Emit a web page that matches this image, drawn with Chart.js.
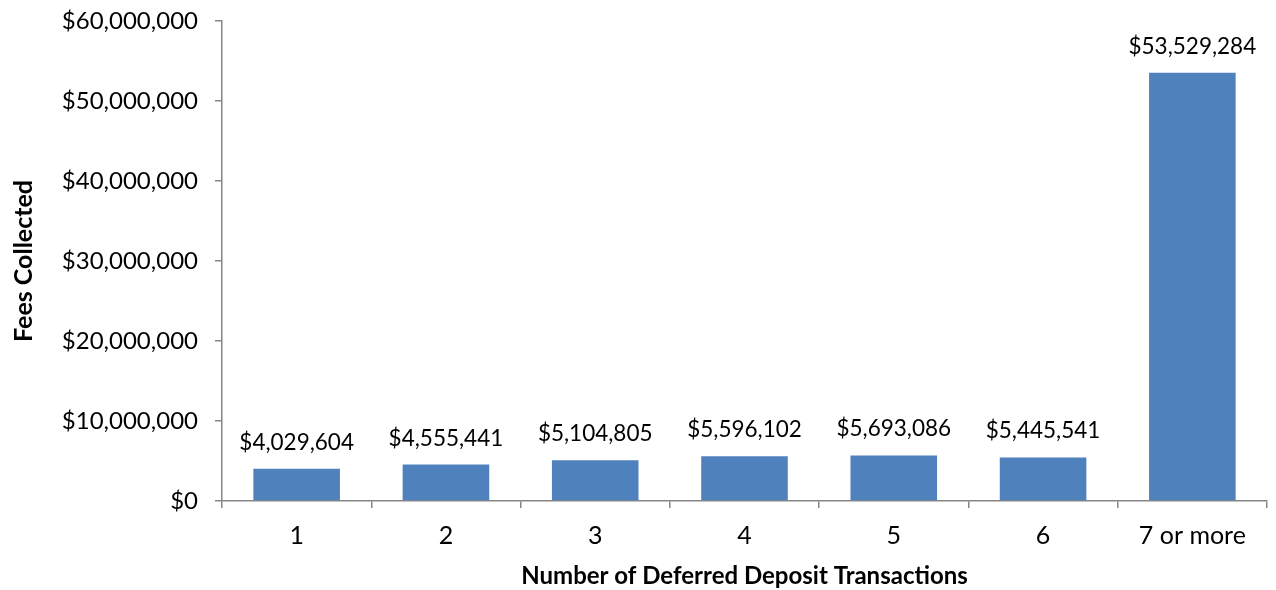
<!DOCTYPE html>
<html>
<head>
<meta charset="utf-8">
<script src="https://cdn.jsdelivr.net/npm/chart.js@4.4.0/dist/chart.umd.min.js"></script>
<style>
  html, body { margin: 0; padding: 0; background: #ffffff; }
  #wrap { width: 1276px; height: 590px; position: relative; }
</style>
</head>
<body>
<div id="wrap"><canvas id="c" width="1276" height="590"></canvas></div>
<script>
const categories = ["1", "2", "3", "4", "5", "6", "7 or more"];
const feesCollected = [4029604, 4555441, 5104805, 5596102, 5693086, 5445541, 53529284];
const yTickValues = [0, 10000000, 20000000, 30000000, 40000000, 50000000, 60000000];

const FONT = "Lato, 'Open Sans', sans-serif";
const fmt = v => "$" + Math.round(v).toLocaleString("en-US");

const valueLabels = {
  id: "valueLabels",
  afterDatasetsDraw(chart) {
    const ctx = chart.ctx;
    const meta = chart.getDatasetMeta(0);
    ctx.save();
    ctx.font = "22.5px " + FONT;
    ctx.fillStyle = "#000000";
    ctx.textAlign = "center";
    ctx.textBaseline = "bottom";
    meta.data.forEach((bar, i) => {
      ctx.fillText(fmt(feesCollected[i]), bar.x, bar.y - 15);
    });
    ctx.restore();
  }
};

new Chart(document.getElementById("c"), {
  type: "bar",
  data: {
    labels: categories,
    datasets: [{
      data: feesCollected,
      backgroundColor: "#4F81BD",
      borderWidth: 0,
      barPercentage: 0.58,
      categoryPercentage: 1.0
    }]
  },
  options: {
    responsive: false,
    animation: false,
    layout: { padding: { left: 0, right: 9, top: 21, bottom: 0 } },
    plugins: { legend: { display: false }, tooltip: { enabled: false } },
    scales: {
      x: {
        grid: { display: true, drawOnChartArea: false, drawTicks: true, tickLength: 7, color: "#868686", lineWidth: 1.5, offset: true },
        border: { display: true, color: "#868686", width: 1.5 },
        ticks: { color: "#000000", font: { family: FONT, size: 25 }, padding: 13 },
        title: { display: true, text: "Number of Deferred Deposit Transactions", color: "#000000", font: { family: FONT, size: 24, weight: "bold" }, padding: { top: 0, bottom: -1 } },
        afterFit(scale) { scale.height = 89; scale.paddingLeft = 0; scale.paddingRight = 0; }
      },
      y: {
        min: 0,
        max: 60000000,
        afterBuildTicks(scale) { scale.ticks = yTickValues.map(v => ({ value: v })); },
        grid: { display: true, drawOnChartArea: false, drawTicks: true, tickLength: 7, color: "#868686", lineWidth: 1.5 },
        border: { display: true, color: "#868686", width: 1.5 },
        ticks: { color: "#000000", font: { family: FONT, size: 24 }, padding: 17, callback: v => fmt(v) },
        title: { display: true, text: "Fees Collected", color: "#000000", font: { family: FONT, size: 25, weight: "bold" }, padding: { top: 9, bottom: 0 } },
        afterFit(scale) { scale.width = 222; scale.paddingTop = 0; scale.paddingBottom = 0; }
      }
    }
  },
  plugins: [valueLabels]
});
</script>
</body>
</html>
